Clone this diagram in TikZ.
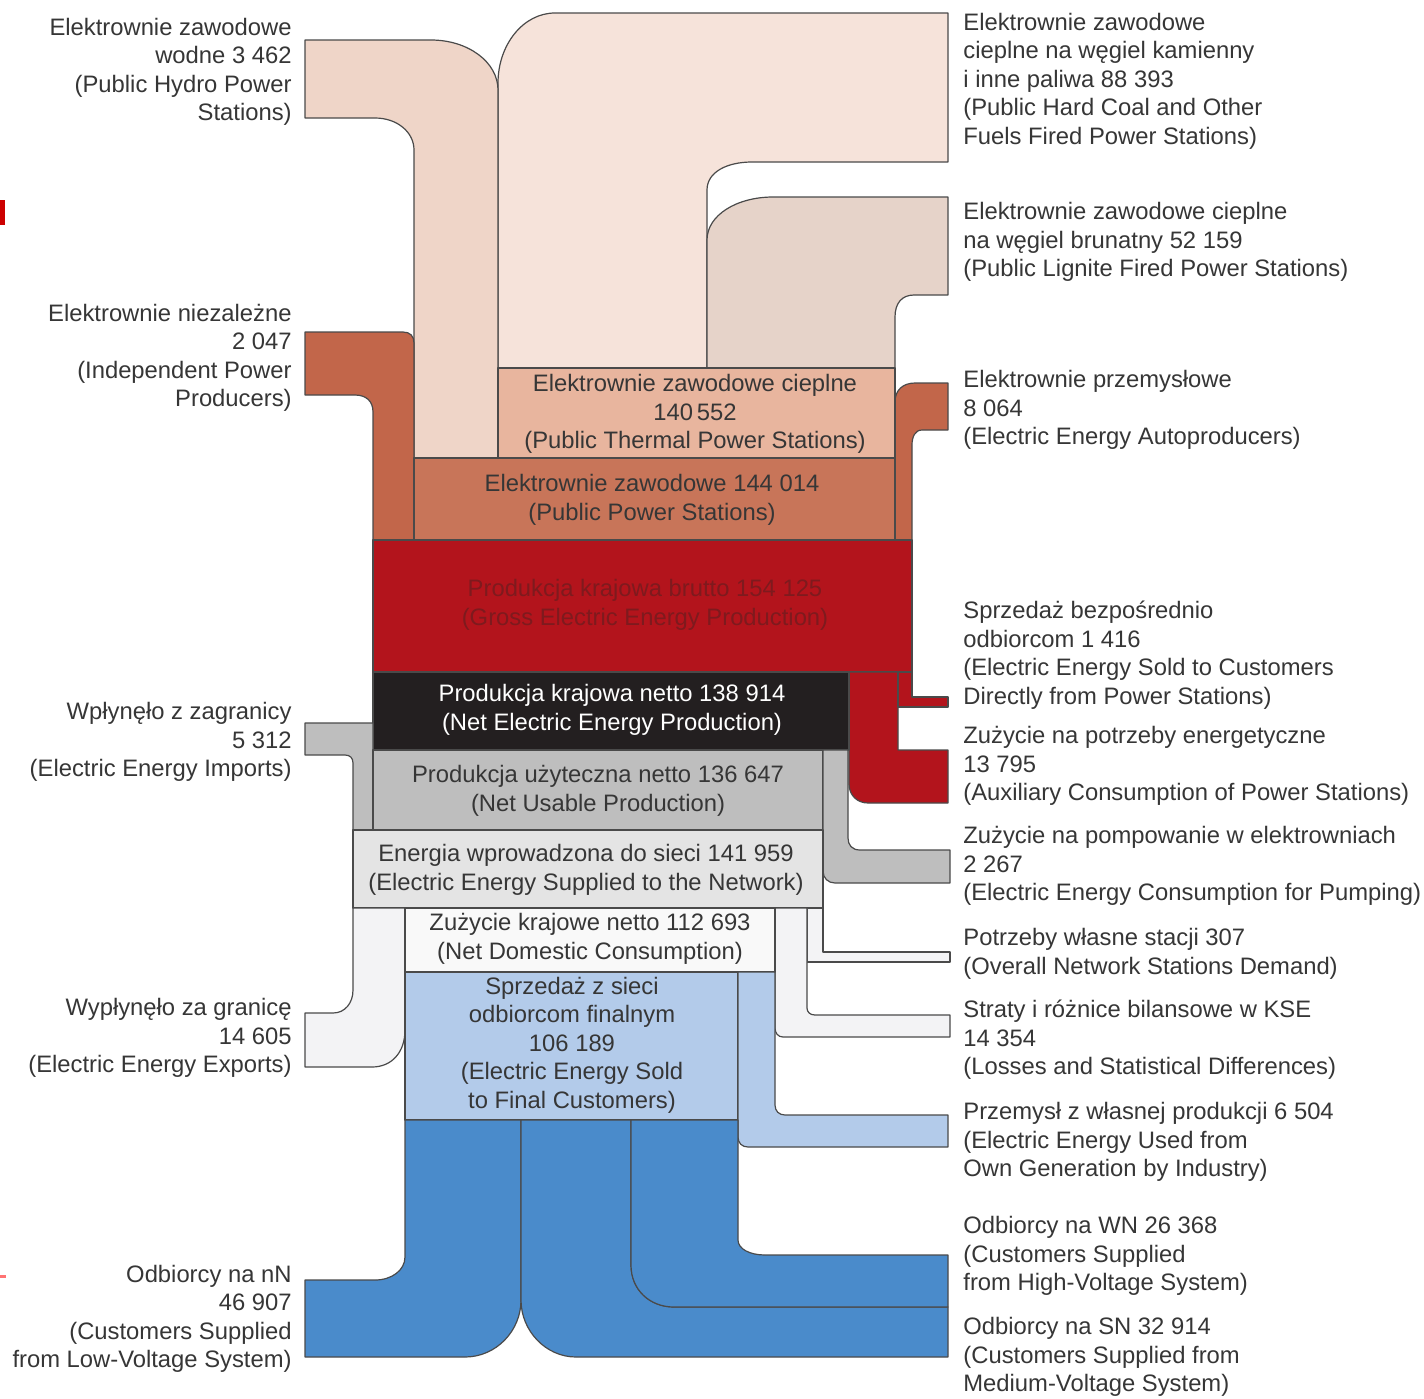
\documentclass[tikz,border=0pt]{standalone}
\usepackage{fontspec}
\setmainfont{Liberation Sans}
\definecolor{txt}{HTML}{363636}
\definecolor{edge}{HTML}{4A4A4A}
\definecolor{hydro}{HTML}{EFD5C8}
\definecolor{coal}{HTML}{F6E3DA}
\definecolor{lignite}{HTML}{E6D3C9}
\definecolor{thermal}{HTML}{E8B59E}
\definecolor{public}{HTML}{C87559}
\definecolor{indep}{HTML}{C2664A}
\definecolor{gross}{HTML}{B3141C}
\definecolor{grosstxt}{HTML}{7E1A1E}
\definecolor{netc}{HTML}{231F20}
\definecolor{usable}{HTML}{BEBEBE}
\definecolor{network}{HTML}{E4E4E4}
\definecolor{pale}{HTML}{F3F3F5}
\definecolor{domestic}{HTML}{F9F9F9}
\definecolor{sales}{HTML}{B3CBEA}
\definecolor{cust}{HTML}{4A8BCB}
\begin{document}
\begin{tikzpicture}[x=0.5pt,y=-0.5pt,
  band/.style={draw=edge,line width=0.6pt,line join=round},
  lbl/.style={font=\fontsize{11.9}{14.25}\selectfont,text=txt,inner sep=0pt},
  lleft/.style={lbl,align=right,anchor=east},
  lright/.style={lbl,align=left,anchor=west},
  lmid/.style={lbl,align=center}]
\useasboundingbox (0,0) rectangle (1424,1398);
\fill[white] (0,0) rectangle (1424,1398);
% small marks at the left margin
\fill[red!80!black] (0,200) rectangle (5,225);
\fill[red!55] (0,1275) rectangle (6,1278);

% ---------- production flows ----------
% hard coal
\path[band,fill=coal] (948,13) -- (555,13) .. controls (523,13) and (498,45) .. (498,83) -- (498,368) -- (707,368) -- (707,190) .. controls (707,172) and (727,162) .. (752,162) -- (948,162) -- cycle;
% lignite
\path[band,fill=lignite] (948,197) -- (773,197) .. controls (737,197) and (707,215) .. (707,240) -- (707,368) -- (895,368) -- (895,317) .. controls (895,303) and (902,295) .. (914,295) -- (948,295) -- cycle;
% hydro
\path[band,fill=hydro] (305,40) -- (431,40) .. controls (468,40) and (498,62) .. (498,90) -- (498,458) -- (414,458) -- (414,150) .. controls (414,132) and (397,118) .. (375,118) -- (305,118) -- cycle;
% independent producers
\path[band,fill=indep] (305,332) -- (403,332) .. controls (410,332) and (414,336) .. (414,343) -- (414,540) -- (373,540) -- (373,412) .. controls (373,401) and (366,395) .. (355,395) -- (305,395) -- cycle;
% autoproducers
\path[band,fill=indep] (948,383) -- (915,383) .. controls (903,383) and (895,390) .. (895,402) -- (895,540) -- (912,540) -- (912,445) .. controls (912,437) and (915,430) .. (922,430) -- (948,430) -- cycle;

% boxes
\path[band,fill=thermal] (498,368) rectangle (895,458);
\path[band,fill=public] (414,458) rectangle (895,540);
\path[band,fill=gross] (373,540) rectangle (912,672);

% red outflows
\path[band,fill=gross] (849,672) -- (898,672) -- (898,750) -- (948,750) -- (948,803) -- (868,803) .. controls (857,803) and (849,795) .. (849,784) -- cycle;
\path[band,fill=gross] (898,672) -- (912,672) -- (912,697) -- (948,697) -- (948,707) -- (898,707) -- cycle;

\path[band,fill=netc] (373,672) rectangle (849,750);

% imports
\path[band,fill=usable] (305,723) -- (373,723) -- (373,830) -- (353,830) -- (353,763) .. controls (353,758) and (350,755) .. (345,755) -- (305,755) -- cycle;
\path[band,fill=usable] (373,750) rectangle (823,830);
% pumping
\path[band,fill=usable] (823,750) -- (848,750) -- (848,838) .. controls (848,845) and (852,850) .. (860,850) -- (950,850) -- (950,883) -- (835,883) .. controls (828,883) and (823,878) .. (823,871) -- cycle;

\path[band,fill=network] (353,830) rectangle (823,908);

% exports
\path[band,fill=pale] (353,908) -- (405,908) -- (405,1030) .. controls (405,1052) and (392,1067) .. (372,1067) -- (305,1067) -- (305,1013) -- (333,1013) .. controls (345,1013) and (353,1003) .. (353,990) -- cycle;
% station demand
\path[band,fill=pale] (807,908) -- (823,908) -- (823,952) -- (950,952) -- (950,962) -- (807,962) -- cycle;
% losses
\path[band,fill=pale] (775,908) -- (807,908) -- (807,1008) .. controls (807,1012) and (810,1015) .. (815,1015) -- (950,1015) -- (950,1037) -- (783,1037) .. controls (778,1037) and (775,1033) .. (775,1028) -- cycle;

\path[band,fill=domestic] (405,908) rectangle (775,972);
\path[band,fill=sales] (405,972) rectangle (738,1120);
% own generation by industry
\path[band,fill=sales] (738,972) -- (775,972) -- (775,1105) .. controls (775,1111) and (779,1115) .. (785,1115) -- (948,1115) -- (948,1147) -- (748,1147) .. controls (742,1147) and (738,1143) .. (738,1137) -- cycle;

% customers
\path[band,fill=cust] (405,1120) -- (521,1120) -- (521,1300) .. controls (521,1331) and (496,1357) .. (465,1357) -- (305,1357) -- (305,1280) -- (375,1280) .. controls (392,1280) and (405,1270) .. (405,1257) -- cycle;
\path[band,fill=cust] (521,1120) -- (631,1120) -- (631,1265) .. controls (631,1290) and (650,1307) .. (674,1307) -- (948,1307) -- (948,1357) -- (576,1357) .. controls (546,1357) and (521,1331) .. (521,1300) -- cycle;
\path[band,fill=cust] (631,1120) -- (738,1120) -- (738,1240) .. controls (738,1249) and (750,1255) .. (765,1255) -- (948,1255) -- (948,1307) -- (674,1307) .. controls (650,1307) and (631,1290) .. (631,1265) -- cycle;

% ---------- box texts ----------
\node[lmid] (tthermal) at (695,414) {Elektrownie zawodowe cieplne\\140\,552\\(Public Thermal Power Stations)};
\node[lmid] (tpublic) at (652,500) {Elektrownie zawodowe 144 014\\(Public Power Stations)};
\node[lmid,text=grosstxt] (tgross) at (645,605) {Produkcja krajowa brutto 154 125\\(Gross Electric Energy Production)};
\node[lmid,text=white] (tnet) at (612,710) {Produkcja krajowa netto 138 914\\(Net Electric Energy Production)};
\node[lmid] (tusable) at (598,791) {Produkcja użyteczna netto 136 647\\(Net Usable Production)};
\node[lmid] (tnetwork) at (586,870) {Energia wprowadzona do sieci 141 959\\(Electric Energy Supplied to the Network)};
\node[lmid] (tdomestic) at (590,939) {Zużycie krajowe netto 112 693\\(Net Domestic Consumption)};
\node[lmid] (tsales) at (572,1045) {Sprzedaż z sieci\\odbiorcom finalnym\\106 189\\(Electric Energy Sold\\to Final Customers)};

% ---------- left labels ----------
\node[lleft] (lhydro) at (292,72) {Elektrownie zawodowe\\wodne 3 462\\(Public Hydro Power\\Stations)};
\node[lleft] (lindep) at (292,358) {Elektrownie niezależne\\2 047\\(Independent Power\\Producers)};
\node[lleft] (limports) at (292,742) {Wpłynęło z zagranicy\\5 312\\(Electric Energy Imports)};
\node[lleft] (lexports) at (292,1038) {Wypłynęło za granicę\\14 605\\(Electric Energy Exports)};
\node[lleft] (llv) at (292,1319) {Odbiorcy na nN\\46 907\\(Customers Supplied\\from Low-Voltage System)};

% ---------- right labels ----------
\node[lright] (rcoal) at (963,81) {Elektrownie zawodowe\\cieplne na węgiel kamienny\\i inne paliwa 88 393\\(Public Hard Coal and Other\\Fuels Fired Power Stations)};
\node[lright] (rlignite) at (963,242) {Elektrownie zawodowe cieplne\\na węgiel brunatny 52 159\\(Public Lignite Fired Power Stations)};
\node[lright] (rauto) at (963,410) {Elektrownie przemysłowe\\8 064\\(Electric Energy Autoproducers)};
\node[lright] (rdirect) at (963,655) {Sprzedaż bezpośrednio\\odbiorcom 1 416\\(Electric Energy Sold to Customers\\Directly from Power Stations)};
\node[lright] (raux) at (963,766) {Zużycie na potrzeby energetyczne\\13 795\\(Auxiliary Consumption of Power Stations)};
\node[lright] (rpump) at (963,866) {Zużycie na pompowanie w elektrowniach\\2 267\\(Electric Energy Consumption for Pumping)};
\node[lright] (rstation) at (963,954) {Potrzeby własne stacji 307\\(Overall Network Stations Demand)};
\node[lright] (rlosses) at (963,1040) {Straty i różnice bilansowe w KSE\\14 354\\(Losses and Statistical Differences)};
\node[lright] (rown) at (963,1142) {Przemysł z własnej produkcji 6 504\\(Electric Energy Used from\\Own Generation by Industry)};
\node[lright] (rhv) at (963,1256) {Odbiorcy na WN 26 368\\(Customers Supplied\\from High-Voltage System)};
\node[lright] (rmv) at (963,1357) {Odbiorcy na SN 32 914\\(Customers Supplied from\\Medium-Voltage System)};
\end{tikzpicture}
\end{document}
